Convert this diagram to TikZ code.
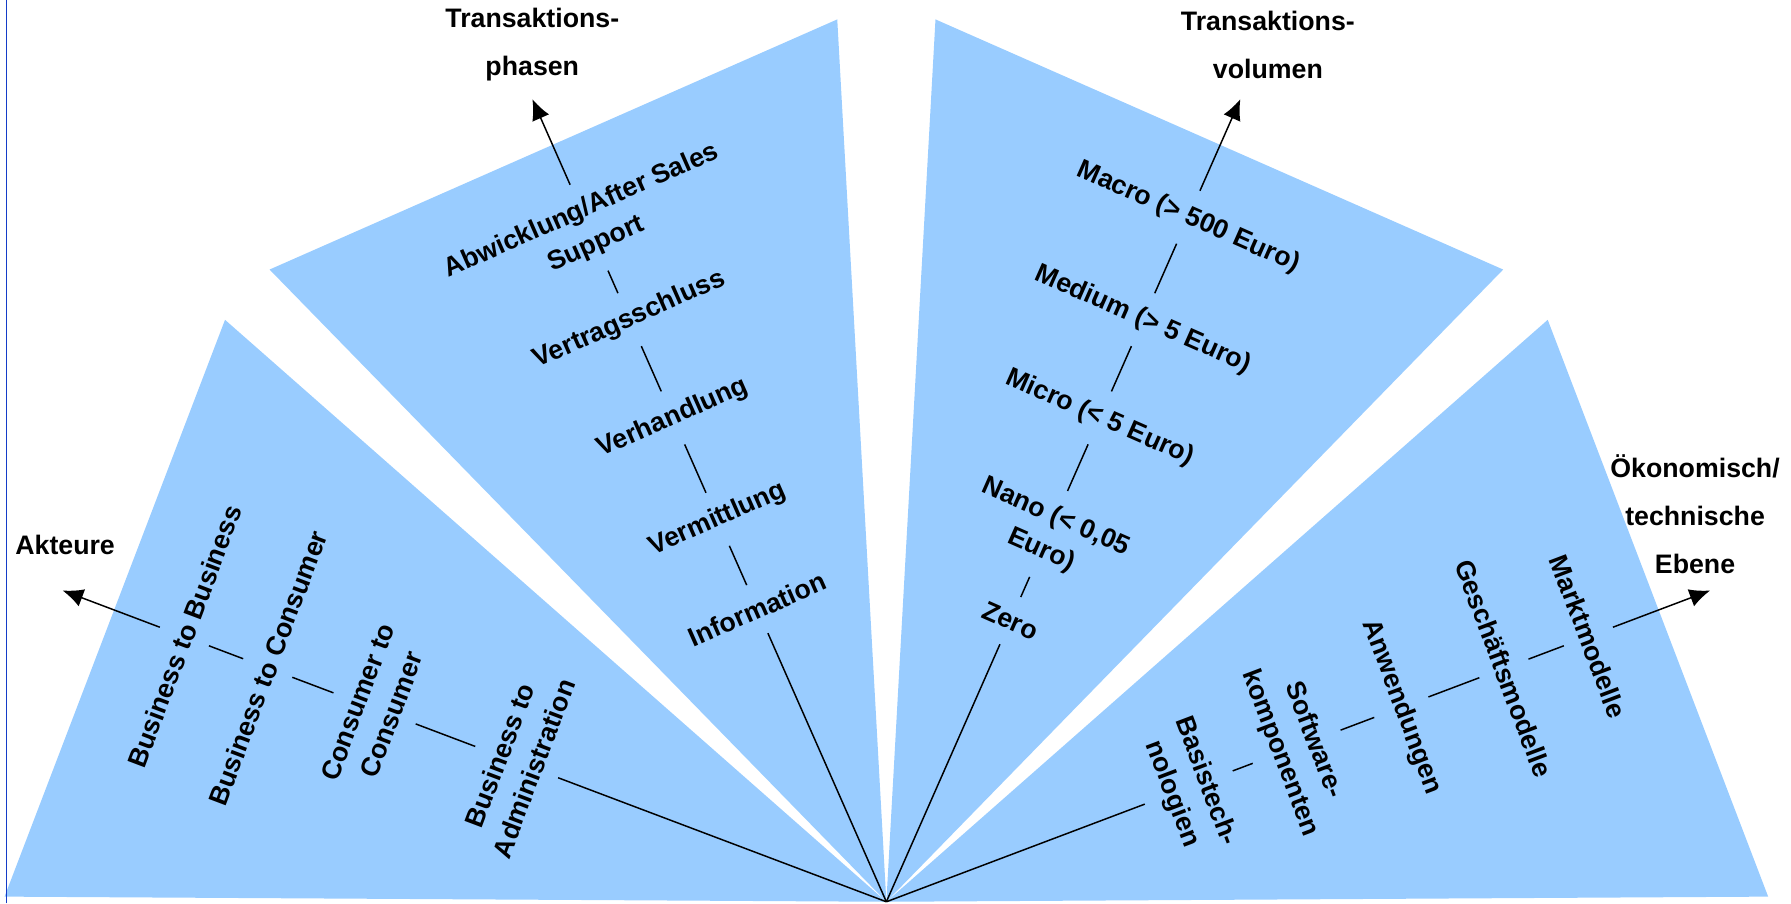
\documentclass[tikz,border=0pt]{standalone}
\usepackage{fontspec}
\setmainfont{Liberation Sans}
\usetikzlibrary{arrows.meta,calc}
\definecolor{fanblue}{HTML}{99CCFF}
\definecolor{edgeblue}{RGB}{20,60,200}
\begin{document}
\begin{tikzpicture}[x=0.5pt,y=0.5pt,
  sector/.style={fill=fanblue,draw=none},
  lab/.style={font=\fontsize{11.7pt}{15.8pt}\selectfont\bfseries,align=center,
              inner xsep=2pt,inner ysep=7pt},
  title/.style={font=\fontsize{11.7pt}{21pt}\selectfont\bfseries,align=center},
  axisline/.style={line width=0.65pt},
  axisarrow/.style={axisline,-{Latex[length=9pt,width=8pt]}}]
\useasboundingbox (0,0) rectangle (1568,791);

% common apex of the fan
\coordinate (A) at (776,1.5);

% the four sectors
\path[sector] (A) -- (4,6) -- (197,511) -- cycle;
\path[sector] (A) -- (236,555) -- (733,774) -- cycle;
\path[sector] (A) -- (819,774) -- (1316,555) -- cycle;
\path[sector] (A) -- (1355,511) -- (1548,6) -- cycle;

% thin frame line on the left
\draw[edgeblue,line width=0.5pt] (5.5,0) -- (5.5,791);

% ---- Akteure ----
\coordinate (t1) at ($(A)+(159.3:771)$);
\node[lab,rotate=69.3] (b2b) at ($(A)+(159.3:657)$) {Business to Business};
\node[lab,rotate=69.3] (b2c) at ($(A)+(159.3:579)$) {Business to Consumer};
\node[lab,rotate=69.3] (c2c) at ($(A)+(159.3:479)$) {Consumer to\\Consumer};
\node[lab,rotate=69.3] (b2a) at ($(A)+(159.3:346)$) {Business to\\Administration};
\draw[axisline] (A) -- (b2a);
\draw[axisline] (b2a) -- (c2c);
\draw[axisline] (c2c) -- (b2c);
\draw[axisline] (b2c) -- (b2b);
\draw[axisarrow] (b2b) -- (t1);
\node[title] (akt) at (57,314) {Akteure};

% ---- Transaktionsphasen ----
\coordinate (t2) at ($(A)+(113.8:768)$);
\node[lab,rotate=23.8] (inf) at ($(A)+(113.8:280)$) {Information};
\node[lab,rotate=23.8] (verm) at ($(A)+(113.8:366)$) {Vermittlung};
\node[lab,rotate=23.8] (verh) at ($(A)+(113.8:463)$) {Verhandlung};
\node[lab,rotate=23.8] (vert) at ($(A)+(113.8:557)$) {Vertragsschluss};
\node[lab,rotate=23.8] (abw) at ($(A)+(113.8:645)$) {Abwicklung/After Sales\\Support};
\draw[axisline] (A) -- (inf);
\draw[axisline] (inf) -- (verm);
\draw[axisline] (verm) -- (verh);
\draw[axisline] (verh) -- (vert);
\draw[axisline] (vert) -- (abw);
\draw[axisarrow] (abw) -- (t2);
\node[title] (phasen) at (466,752) {Transaktions-\\phasen};

% ---- Transaktionsvolumen ----
\coordinate (t3) at ($(A)+(66.2:768)$);
\node[lab,rotate=-23.8] (zero) at ($(A)+(66.2:269)$) {Zero};
\node[lab,rotate=-23.8] (nano) at ($(A)+(66.2:352)$) {Nano (< 0,05\\Euro)};
\node[lab,rotate=-23.8] (micro) at ($(A)+(66.2:463)$) {Micro (< 5 Euro)};
\node[lab,rotate=-23.8] (medium) at ($(A)+(66.2:557)$) {Medium (> 5 Euro)};
\node[lab,rotate=-23.8] (macro) at ($(A)+(66.2:655)$) {Macro (> 500 Euro)};
\draw[axisline] (A) -- (zero);
\draw[axisline] (zero) -- (nano);
\draw[axisline] (nano) -- (micro);
\draw[axisline] (micro) -- (medium);
\draw[axisline] (medium) -- (macro);
\draw[axisarrow] (macro) -- (t3);
\node[title] (volumen) at (1110,752) {Transaktions-\\volumen};

% ---- Oekonomisch/technische Ebene ----
\coordinate (t4) at ($(A)+(20.7:771)$);
\node[lab,rotate=-69.3] (basis) at ($(A)+(20.7:283)$) {Basistech-\\nologien};
\node[lab,rotate=-69.3] (soft) at ($(A)+(20.7:384)$) {Software-\\komponenten};
\node[lab,rotate=-69.3] (anw) at ($(A)+(20.7:482)$) {Anwendungen};
\node[lab,rotate=-69.3] (gesch) at ($(A)+(20.7:578)$) {Geschäftsmodelle};
\node[lab,rotate=-69.3] (markt) at ($(A)+(20.7:657)$) {Marktmodelle};
\draw[axisline] (A) -- (basis);
\draw[axisline] (basis) -- (soft);
\draw[axisline] (soft) -- (anw);
\draw[axisline] (anw) -- (gesch);
\draw[axisline] (gesch) -- (markt);
\draw[axisarrow] (markt) -- (t4);
\node[title] (ebene) at (1484,341) {Ökonomisch/\\technische\\Ebene};
\end{tikzpicture}
\end{document}
